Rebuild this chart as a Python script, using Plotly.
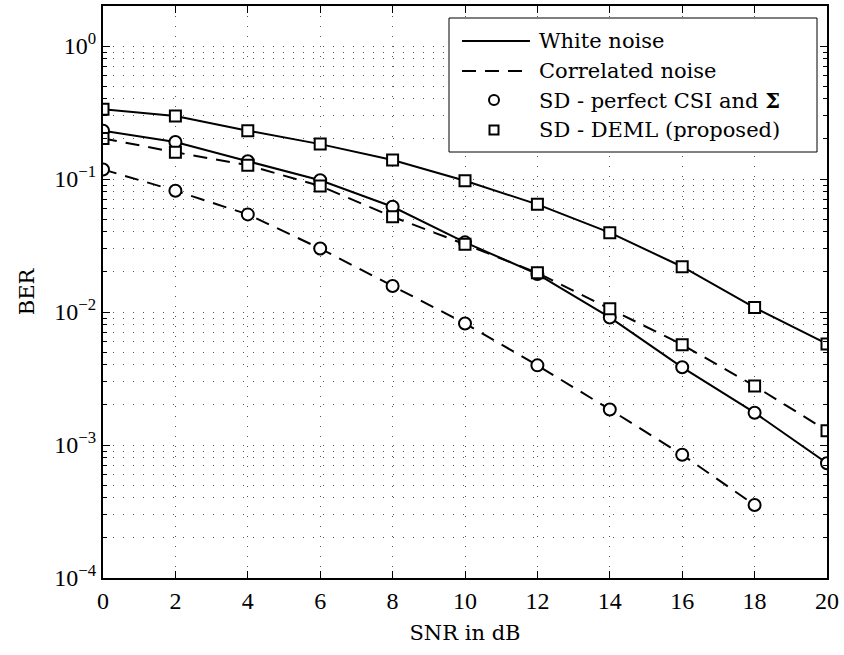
import plotly.graph_objects as go

snr = [0, 2, 4, 6, 8, 10, 12, 14, 16, 18, 20]
snr_corr_perfect = [0, 2, 4, 6, 8, 10, 12, 14, 16, 18]

white_deml = [0.334, 0.298, 0.231, 0.183, 0.139, 0.097, 0.0645, 0.0395, 0.0219, 0.0108, 0.00575]
white_perfect = [0.231, 0.19, 0.136, 0.098, 0.0619, 0.0334, 0.0193, 0.0091, 0.00384, 0.00175, 0.00073]
corr_deml = [0.202, 0.159, 0.127, 0.0886, 0.052, 0.0323, 0.0197, 0.0106, 0.00568, 0.00278, 0.00128]
corr_perfect = [0.118, 0.0817, 0.0542, 0.030, 0.0157, 0.0082, 0.00397, 0.00185, 0.000845, 0.000354]

x_ticks = [0, 2, 4, 6, 8, 10, 12, 14, 16, 18, 20]
y_major = [1e-4, 1e-3, 1e-2, 1e-1, 1e0]
y_major_text = ["10<sup>−4</sup>", "10<sup>−3</sup>", "10<sup>−2</sup>", "10<sup>−1</sup>", "10<sup>0</sup>"]
y_minor = [m * 10.0 ** e for e in range(-4, 1) for m in range(2, 10) if m * 10.0 ** e <= 2.0]

legend_names = ["White noise", "Correlated noise", "SD - perfect CSI and <b>Σ</b>", "SD - DEML (proposed)"]

TICKFONT = "Liberation Serif"
TEXTFONT = "DejaVu Serif"
W, H = 844, 655
ML, MR, MT, MB = 103, 17, 6, 77
PW, PH = W - ML - MR, H - MT - MB

def px2paper_x(px):
    return (px - ML) / PW

def px2paper_y(py):
    return (H - MB - py) / PH

fig = go.Figure()

circle = dict(symbol="circle", size=12, color="white", line=dict(color="black", width=2))
square = dict(symbol="square", size=11, color="white", line=dict(color="black", width=2))
solid = dict(color="black", width=2)
DASH = "14px,9px"
dashed = dict(color="black", width=2, dash=DASH)

fig.add_trace(go.Scatter(x=snr, y=white_deml, mode="lines+markers", line=solid, marker=square, showlegend=False))
fig.add_trace(go.Scatter(x=snr, y=white_perfect, mode="lines+markers", line=solid, marker=circle, showlegend=False))
fig.add_trace(go.Scatter(x=snr, y=corr_deml, mode="lines+markers", line=dashed, marker=square, showlegend=False))
fig.add_trace(go.Scatter(x=snr_corr_perfect, y=corr_perfect, mode="lines+markers", line=dashed, marker=circle, showlegend=False))

# ---- manual legend (paper coordinates) ----
box_x0, box_x1 = px2paper_x(449), px2paper_x(817)
box_y0, box_y1 = px2paper_y(152), px2paper_y(18)
rows = [41, 71, 100, 130]
line_x0, line_x1 = px2paper_x(462), px2paper_x(530)
mark_cx = 494
text_x = px2paper_x(537)

shapes = [dict(type="rect", xref="paper", yref="paper", x0=box_x0, x1=box_x1, y0=box_y0, y1=box_y1,
               line=dict(color="black", width=1), fillcolor="white", layer="above")]
shapes.append(dict(type="line", xref="paper", yref="paper", x0=line_x0, x1=line_x1,
                   y0=px2paper_y(rows[0]), y1=px2paper_y(rows[0]), line=dict(color="black", width=2), layer="above"))
shapes.append(dict(type="line", xref="paper", yref="paper", x0=line_x0, x1=line_x1,
                   y0=px2paper_y(rows[1]), y1=px2paper_y(rows[1]), line=dict(color="black", width=2, dash=DASH), layer="above"))
r = 5
shapes.append(dict(type="circle", xref="paper", yref="paper",
                   x0=px2paper_x(mark_cx - r), x1=px2paper_x(mark_cx + r),
                   y0=px2paper_y(rows[2] + r), y1=px2paper_y(rows[2] - r),
                   line=dict(color="black", width=2), fillcolor="white", layer="above"))
s = 4.5
shapes.append(dict(type="rect", xref="paper", yref="paper",
                   x0=px2paper_x(mark_cx - s), x1=px2paper_x(mark_cx + s),
                   y0=px2paper_y(rows[3] + s), y1=px2paper_y(rows[3] - s),
                   line=dict(color="black", width=2), fillcolor="white", layer="above"))

annotations = [dict(text=name, xref="paper", yref="paper", x=text_x, y=px2paper_y(ry),
                    xanchor="left", yanchor="middle", showarrow=False,
                    font=dict(family=TEXTFONT, size=21, color="black"))
               for name, ry in zip(legend_names, rows)]

grid = dict(showgrid=True, gridcolor="#555555", gridwidth=1, griddash="1px,9px")

fig.update_layout(
    width=W, height=H,
    margin=dict(l=ML, r=MR, t=MT, b=MB, autoexpand=False),
    paper_bgcolor="white", plot_bgcolor="white",
    font=dict(family=TICKFONT, size=24, color="black"),
    showlegend=False,
    shapes=shapes,
    annotations=annotations,
    xaxis=dict(range=[0, 20], tickvals=x_ticks, ticktext=[str(v) for v in x_ticks],
               ticks="inside", ticklen=7, tickwidth=1, tickcolor="black",
               showline=True, linecolor="black", linewidth=2, mirror="ticks",
               zeroline=False, automargin=False,
               tickfont=dict(family=TICKFONT, size=24),
               title=dict(text="SNR in dB", font=dict(family=TEXTFONT, size=21), standoff=13),
               **grid),
    yaxis=dict(type="log", range=[-4, 0.301],
               tickvals=y_major, ticktext=y_major_text,
               ticks="inside", ticklen=7, tickwidth=1, tickcolor="black",
               showline=True, linecolor="black", linewidth=2, mirror="ticks",
               zeroline=False, automargin=False,
               tickfont=dict(family=TICKFONT, size=24),
               title=dict(text="BER", font=dict(family=TEXTFONT, size=21), standoff=14),
               minor=dict(tickvals=y_minor, ticks="inside", ticklen=4, tickcolor="black",
                          showgrid=True, gridcolor="#555555", gridwidth=1, griddash="1px,9px"),
               **grid),
)

fig.write_html("out.html", config={"displayModeBar": False},
               post_script="document.body.style.margin='0px';")
